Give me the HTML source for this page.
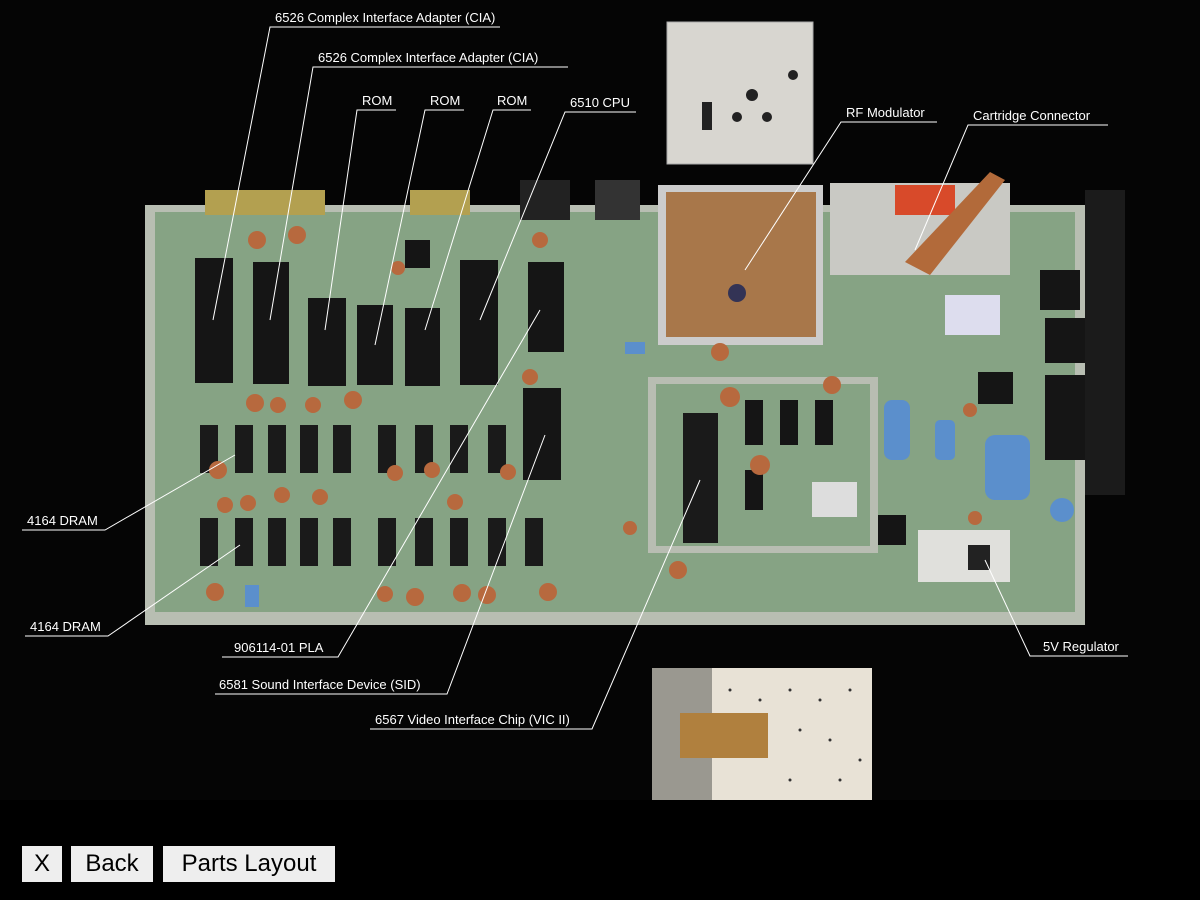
<!DOCTYPE html>
<html><head><meta charset="utf-8"><style>
html,body{margin:0;padding:0;background:#000;width:1200px;height:900px;overflow:hidden}
.btn{position:absolute;top:846px;height:36px;background:#eee;color:#000;font:24px "Liberation Sans",sans-serif;line-height:36px;text-align:center}
svg text{font-family:"Liberation Sans",sans-serif;font-size:13px;fill:#fff}
</style></head><body>
<svg width="1200" height="800" style="position:absolute;left:0;top:0" xmlns="http://www.w3.org/2000/svg">
<rect width="1200" height="800" fill="#050505"/>
<rect x="667" y="22" width="146" height="142" fill="#d8d6d0" stroke="#aaa"/>
<rect x="702" y="102" width="10" height="28" fill="#222"/>
<circle cx="752" cy="95" r="6" fill="#222"/><circle cx="737" cy="117" r="5" fill="#222"/><circle cx="767" cy="117" r="5" fill="#222"/><circle cx="793" cy="75" r="5" fill="#222"/>
<rect x="652" y="668" width="220" height="132" fill="#e8e2d6"/>
<rect x="652" y="668" width="60" height="132" fill="#9a9890"/>
<rect x="680" y="713" width="88" height="45" fill="#b0803e"/>
<g fill="#333">
<circle cx="730" cy="690" r="1.5"/><circle cx="760" cy="700" r="1.5"/><circle cx="790" cy="690" r="1.5"/><circle cx="820" cy="700" r="1.5"/><circle cx="850" cy="690" r="1.5"/><circle cx="800" cy="730" r="1.5"/><circle cx="830" cy="740" r="1.5"/><circle cx="860" cy="760" r="1.5"/><circle cx="790" cy="780" r="1.5"/><circle cx="840" cy="780" r="1.5"/>
</g>
<rect x="1085" y="190" width="40" height="305" fill="#1b1b1b"/>
<rect x="145" y="205" width="940" height="420" fill="#b8beb2"/>
<rect x="155" y="212" width="920" height="400" fill="#86a384"/>
<rect x="205" y="190" width="120" height="25" fill="#b3a050"/>
<rect x="410" y="190" width="60" height="25" fill="#b3a050"/>
<rect x="520" y="180" width="50" height="40" fill="#222"/>
<rect x="595" y="180" width="45" height="40" fill="#333"/>
<rect x="658" y="185" width="165" height="160" fill="#ccc"/>
<rect x="666" y="192" width="150" height="145" fill="#a8774a"/>
<circle cx="737" cy="293" r="9" fill="#335"/>
<rect x="830" y="183" width="180" height="92" fill="#c9c9c4"/>
<rect x="895" y="185" width="60" height="30" fill="#d84a2a"/>
<polygon points="990,172 1005,180 930,275 905,262" fill="#b26a3a"/>
<rect x="648" y="377" width="230" height="176" fill="#b8bdb2"/>
<rect x="656" y="384" width="214" height="162" fill="#86a384"/>
<rect x="683" y="413" width="35" height="130" fill="#1a1a1a"/>
<rect x="812" y="482" width="45" height="35" fill="#ddd"/>
<rect x="918" y="530" width="92" height="52" fill="#e0e0dc"/>
<rect x="968" y="545" width="22" height="25" fill="#222"/>
<g fill="#151515">
<rect x="195" y="258" width="38" height="125"/>
<rect x="253" y="262" width="36" height="122"/>
<rect x="308" y="298" width="38" height="88"/>
<rect x="357" y="305" width="36" height="80"/>
<rect x="405" y="308" width="35" height="78"/>
<rect x="460" y="260" width="38" height="125"/>
<rect x="528" y="262" width="36" height="90"/>
<rect x="523" y="388" width="38" height="92"/>
<rect x="405" y="240" width="25" height="28"/>
<rect x="745" y="400" width="18" height="45"/><rect x="780" y="400" width="18" height="45"/><rect x="815" y="400" width="18" height="45"/>
<rect x="745" y="470" width="18" height="40"/>
<rect x="978" y="372" width="35" height="32"/>
<rect x="1045" y="318" width="40" height="45"/><rect x="1045" y="375" width="40" height="45"/><rect x="1045" y="415" width="40" height="45"/>
<rect x="1040" y="270" width="40" height="40"/>
<rect x="878" y="515" width="28" height="30"/>
</g>
<g fill="#1a1a1a">
<rect x="200" y="425" width="18" height="48"/><rect x="235" y="425" width="18" height="48"/><rect x="268" y="425" width="18" height="48"/><rect x="300" y="425" width="18" height="48"/><rect x="333" y="425" width="18" height="48"/><rect x="378" y="425" width="18" height="48"/><rect x="415" y="425" width="18" height="48"/><rect x="450" y="425" width="18" height="48"/><rect x="488" y="425" width="18" height="48"/>
<rect x="200" y="518" width="18" height="48"/><rect x="235" y="518" width="18" height="48"/><rect x="268" y="518" width="18" height="48"/><rect x="300" y="518" width="18" height="48"/><rect x="333" y="518" width="18" height="48"/><rect x="378" y="518" width="18" height="48"/><rect x="415" y="518" width="18" height="48"/><rect x="450" y="518" width="18" height="48"/><rect x="488" y="518" width="18" height="48"/><rect x="525" y="518" width="18" height="48"/>
</g>
<g fill="#b7693e">
<circle cx="257" cy="240" r="9"/><circle cx="297" cy="235" r="9"/><circle cx="540" cy="240" r="8"/><circle cx="398" cy="268" r="7"/><circle cx="255" cy="403" r="9"/><circle cx="278" cy="405" r="8"/><circle cx="313" cy="405" r="8"/><circle cx="353" cy="400" r="9"/><circle cx="530" cy="377" r="8"/><circle cx="218" cy="470" r="9"/><circle cx="225" cy="505" r="8"/><circle cx="248" cy="503" r="8"/><circle cx="282" cy="495" r="8"/><circle cx="320" cy="497" r="8"/><circle cx="395" cy="473" r="8"/><circle cx="432" cy="470" r="8"/><circle cx="455" cy="502" r="8"/><circle cx="508" cy="472" r="8"/><circle cx="215" cy="592" r="9"/><circle cx="385" cy="594" r="8"/><circle cx="415" cy="597" r="9"/><circle cx="462" cy="593" r="9"/><circle cx="487" cy="595" r="9"/><circle cx="548" cy="592" r="9"/><circle cx="720" cy="352" r="9"/><circle cx="730" cy="397" r="10"/><circle cx="760" cy="465" r="10"/><circle cx="832" cy="385" r="9"/><circle cx="678" cy="570" r="9"/><circle cx="630" cy="528" r="7"/><circle cx="970" cy="410" r="7"/><circle cx="975" cy="518" r="7"/>
</g>
<g fill="#5b8fcc">
<rect x="884" y="400" width="26" height="60" rx="8"/><rect x="985" y="435" width="45" height="65" rx="10"/><rect x="935" y="420" width="20" height="40" rx="5"/><circle cx="1062" cy="510" r="12"/><rect x="945" y="295" width="55" height="40" fill="#dde"/>
<rect x="625" y="342" width="20" height="12"/><rect x="245" y="585" width="14" height="22"/>
</g>
<g stroke="#fff" stroke-width="1" fill="none">
<polyline points="500,27 270,27 213,320"/>
<polyline points="568,67 313,67 270,320"/>
<polyline points="396,110 357,110 325,330"/>
<polyline points="464,110 425,110 375,345"/>
<polyline points="531,110 493,110 425,330"/>
<polyline points="636,112 565,112 480,320"/>
<polyline points="937,122 841,122 745,270"/>
<polyline points="1108,125 968,125 915,250"/>
<polyline points="22,530 105,530 235,455"/>
<polyline points="25,636 108,636 240,545"/>
<polyline points="222,657 338,657 540,310"/>
<polyline points="215,694 447,694 545,435"/>
<polyline points="370,729 592,729 700,480"/>
<polyline points="1128,656 1030,656 985,560"/>
</g>
<text x="275" y="22">6526 Complex Interface Adapter (CIA)</text>
<text x="318" y="62">6526 Complex Interface Adapter (CIA)</text>
<text x="362" y="105">ROM</text>
<text x="430" y="105">ROM</text>
<text x="497" y="105">ROM</text>
<text x="570" y="107">6510 CPU</text>
<text x="846" y="117">RF Modulator</text>
<text x="973" y="120">Cartridge Connector</text>
<text x="27" y="525">4164 DRAM</text>
<text x="30" y="631">4164 DRAM</text>
<text x="234" y="652">906114-01 PLA</text>
<text x="219" y="689">6581 Sound Interface Device (SID)</text>
<text x="375" y="724">6567 Video Interface Chip (VIC II)</text>
<text x="1043" y="651">5V Regulator</text>
</svg>
<div class="btn" style="left:22px;width:40px">X</div>
<div class="btn" style="left:71px;width:82px">Back</div>
<div class="btn" style="left:163px;width:172px">Parts Layout</div>
</body></html>
